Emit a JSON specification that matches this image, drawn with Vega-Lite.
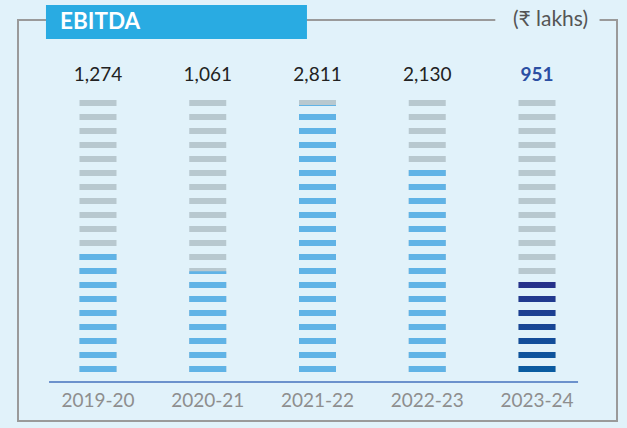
{
  "$schema": "https://vega.github.io/schema/vega-lite/v6.json",
  "width": 599,
  "height": 401,
  "autosize": {"type": "none"},
  "padding": {"left": 18, "top": 20, "right": 10, "bottom": 7},
  "background": "#E1F2FA",
  "config": {
    "view": {"stroke": "#9A9A9A", "strokeWidth": 2},
    "font": "Lato"
  },
  "datasets": {
    "ebitda": [
      {"year": "2019-20", "value": 1274},
      {"year": "2020-21", "value": 1061},
      {"year": "2021-22", "value": 2811},
      {"year": "2022-23", "value": 2130},
      {"year": "2023-24", "value": 951}
    ],
    "notes": [{"title": "EBITDA", "unit": "(₹ lakhs)"}]
  },
  "data": {"name": "ebitda"},
  "encoding": {
    "x": {
      "field": "year",
      "type": "nominal",
      "sort": null,
      "scale": {"paddingInner": 0, "paddingOuter": 0.2289},
      "axis": {
        "title": null,
        "orient": "bottom",
        "offset": -39,
        "domain": false,
        "ticks": false,
        "labelAngle": 0,
        "labelFont": "Lato",
        "labelFontSize": 19,
        "labelColor": "#8E8E8E",
        "labelPadding": 18,
        "labelBaseline": "middle"
      }
    }
  },
  "layer": [
    {
      "mark": {"type": "bar", "width": 37, "color": "#B8C8CF"},
      "encoding": {
        "y": {"datum": 0, "type": "quantitative", "scale": {"domain": [-515.79, 3705.26], "nice": false, "zero": false}, "axis": null},
        "y2": {"datum": 2863.16}
      }
    },
    {
      "transform": [{"filter": "datum.year != '2023-24'"}],
      "mark": {"type": "bar", "width": 37, "color": "#60B3E6"},
      "encoding": {
        "y": {"field": "value", "type": "quantitative"},
        "y2": {"datum": 0}
      }
    },
    {
      "transform": [{"filter": "datum.year == '2023-24'"}],
      "mark": {
        "type": "bar",
        "width": 37,
        "color": {
          "gradient": "linear",
          "x1": 0, "y1": 1, "x2": 0, "y2": 0,
          "stops": [
            {"offset": 0, "color": "#085CA1"},
            {"offset": 1, "color": "#27308A"}
          ]
        }
      },
      "encoding": {
        "y": {"field": "value", "type": "quantitative"},
        "y2": {"datum": 0}
      }
    },
    {
      "mark": {"type": "rule", "color": "#E1F2FA", "strokeWidth": 41, "strokeDash": [8, 6], "strokeDashOffset": 8},
      "encoding": {
        "y": {"datum": 0, "type": "quantitative"},
        "y2": {"datum": 2863.16}
      }
    },
    {
      "mark": {"type": "text", "fontSize": 19, "color": "#222222", "baseline": "middle", "font": "Lato"},
      "transform": [{"filter": "datum.year != '2023-24'"}],
      "encoding": {
        "y": {"datum": 3126.3, "type": "quantitative"},
        "text": {"field": "value", "type": "quantitative", "format": ","}
      }
    },
    {
      "mark": {"type": "text", "fontSize": 19, "fontWeight": "bold", "color": "#2B4FA3", "baseline": "middle", "font": "Lato"},
      "transform": [{"filter": "datum.year == '2023-24'"}],
      "encoding": {
        "y": {"datum": 3126.3, "type": "quantitative"},
        "text": {"field": "value", "type": "quantitative", "format": ","}
      }
    },
    {
      "data": {"name": "notes"},
      "mark": {"type": "rule", "color": "#4572BD", "strokeWidth": 1.6},
      "encoding": {
        "x": {"datum": "2019-20", "type": "nominal", "bandPosition": 0.054},
        "x2": {"datum": "2023-24", "bandPosition": 0.874},
        "y": {"datum": -105.26, "type": "quantitative"}
      }
    },
    {
      "data": {"name": "notes"},
      "mark": {"type": "rect", "color": "#29ABE2"},
      "encoding": {
        "x": {"datum": "2019-20", "type": "nominal", "bandPosition": 0.026},
        "x2": {"datum": "2021-22", "bandPosition": 0.404},
        "y": {"datum": 3863.2, "type": "quantitative"},
        "y2": {"datum": 3505.3}
      }
    },
    {
      "data": {"name": "notes"},
      "mark": {"type": "text", "color": "#FFFFFF", "fontSize": 22.5, "fontWeight": "bold", "align": "left", "baseline": "middle", "font": "Lato"},
      "encoding": {
        "x": {"datum": "2019-20", "type": "nominal", "bandPosition": 0.154},
        "y": {"datum": 3684.2, "type": "quantitative"},
        "text": {"field": "title"}
      }
    },
    {
      "data": {"name": "notes"},
      "mark": {"type": "rect", "color": "#E1F2FA"},
      "encoding": {
        "x": {"datum": "2023-24", "type": "nominal", "bandPosition": 0.12},
        "x2": {"datum": "2023-24", "bandPosition": 1.07},
        "y": {"datum": 3800, "type": "quantitative"},
        "y2": {"datum": 3600}
      }
    },
    {
      "data": {"name": "notes"},
      "mark": {"type": "text", "color": "#555555", "fontSize": 21, "align": "right", "baseline": "middle", "font": "Lato"},
      "encoding": {
        "x": {"datum": "2023-24", "type": "nominal", "bandPosition": 0.965},
        "y": {"datum": 3705.26, "type": "quantitative"},
        "text": {"field": "unit"}
      }
    }
  ]
}
